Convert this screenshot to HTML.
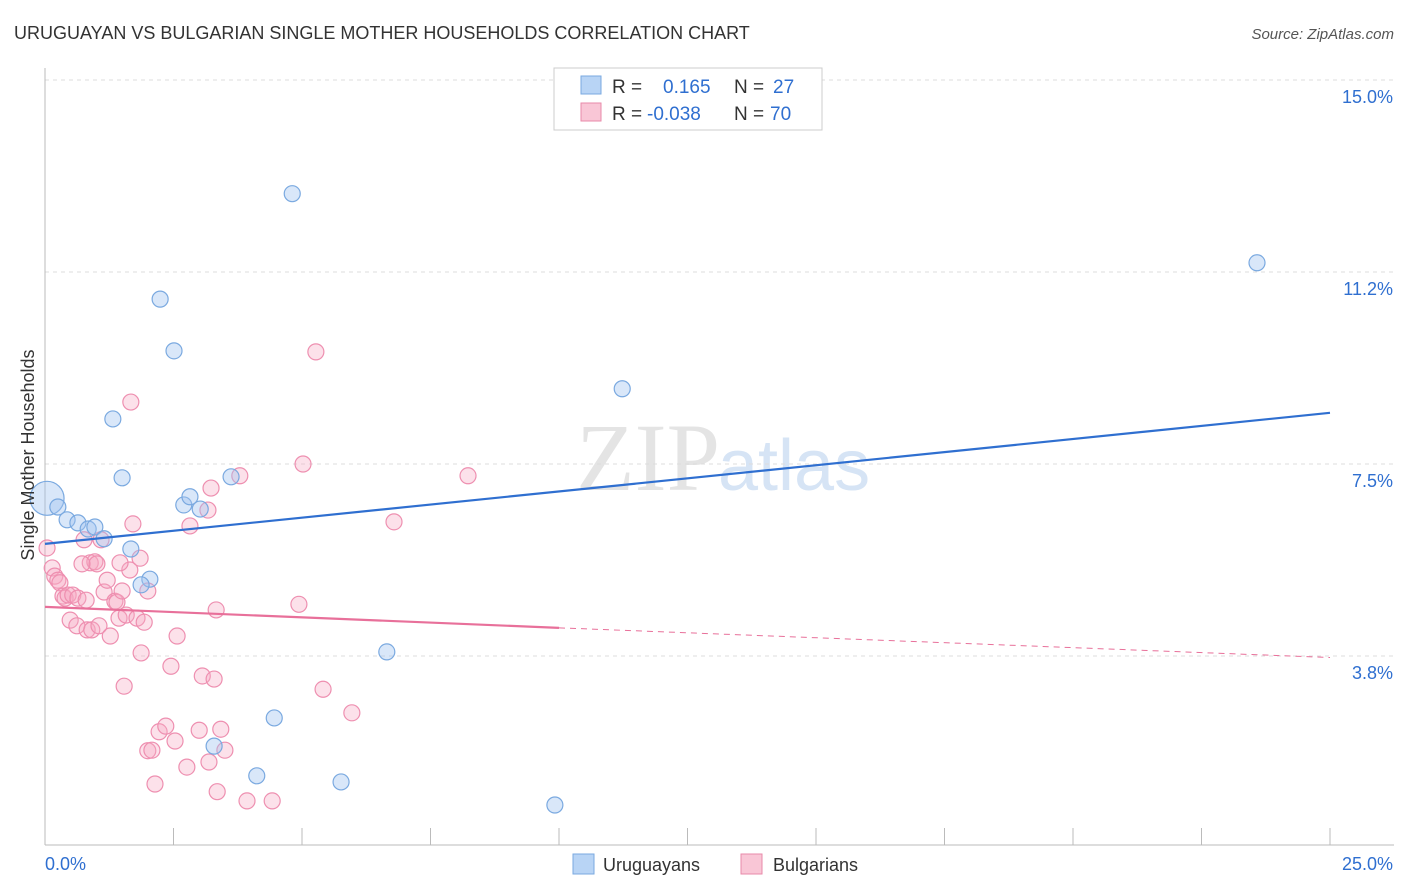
<!DOCTYPE html>
<html><head><meta charset="utf-8"><style>
body{margin:0;background:#fff;font-family:"Liberation Sans",sans-serif}
svg{display:block}
</style></head><body>
<svg id="chart" width="1406" height="892" xmlns="http://www.w3.org/2000/svg">
<text x="14" y="39" font-size="18" fill="#333">URUGUAYAN VS BULGARIAN SINGLE MOTHER HOUSEHOLDS CORRELATION CHART</text>
<text x="1394" y="39" font-size="15" fill="#555" font-style="italic" text-anchor="end">Source: ZipAtlas.com</text>
<text x="720" y="490" font-size="96" fill="#e4e4e4" text-anchor="end" font-family="Liberation Serif">ZIP</text>
<text x="718" y="490" font-size="72" fill="#d6e4f5">atlas</text>
<g id="grid"></g><g id="axes"></g><g id="marks"></g>
<text transform="translate(34,455) rotate(-90)" font-size="18" fill="#333" text-anchor="middle">Single Mother Households</text>
<g>
<rect x="554" y="68" width="268" height="62" fill="#fff" stroke="#ccc"/>
<rect x="581" y="76" width="20" height="18" fill="#b8d4f5" stroke="#7aa9e0"/>
<rect x="581" y="103" width="20" height="18" fill="#f9c6d6" stroke="#e88aa9"/>
<text x="612" y="93" font-size="19" fill="#333">R = </text><text x="663" y="93" font-size="19" fill="#2f6fd0">0.165</text>
<text x="734" y="93" font-size="19" fill="#333">N = </text><text x="773" y="93" font-size="19" fill="#2f6fd0">27</text>
<text x="612" y="120" font-size="19" fill="#333">R = </text><text x="647" y="120" font-size="19" fill="#2f6fd0">-0.038</text>
<text x="734" y="120" font-size="19" fill="#333">N = </text><text x="770" y="120" font-size="19" fill="#2f6fd0">70</text>
</g>
<g>
<rect x="573" y="854" width="21" height="20" fill="#b8d4f5" stroke="#7aa9e0"/>
<text x="603" y="871" font-size="18" fill="#333">Uruguayans</text>
<rect x="741" y="854" width="21" height="20" fill="#f9c6d6" stroke="#e88aa9"/>
<text x="773" y="871" font-size="18" fill="#333">Bulgarians</text>
</g>
</svg>
<script>
const xTicks=[0,2.5,5,7.5,10,12.5,15,17.5,20,22.5,25];
const yTicks=[15.0,11.25,7.5,3.75];
const yTickLabels=["15.0%","11.2%","7.5%","3.8%"];
const bluePx=[[0.04,6.83],[0.25,6.66],[0.43,6.41],[0.64,6.35],[0.84,6.23],[0.97,6.27],[1.15,6.04],[1.67,5.84],[2.04,5.25],[1.87,5.14],[1.32,8.38],[1.5,7.23],[2.24,10.72],[2.51,9.71],[4.81,12.78],[2.7,6.7],[2.82,6.86],[3.02,6.62],[3.62,7.25],[3.29,1.99],[4.46,2.54],[4.12,1.41],[5.76,1.29],[6.65,3.83],[9.92,0.84],[11.23,8.97],[23.58,11.43]];
const pinkPx=[[0.04,5.86],[0.14,5.47],[0.19,5.31],[0.25,5.23],[0.29,5.18],[0.35,4.92],[0.39,4.88],[0.45,4.94],[0.49,4.45],[0.54,4.94],[0.62,4.34],[0.64,4.88],[0.76,6.02],[0.82,4.26],[0.88,5.57],[0.91,4.26],[0.97,5.59],[1.01,5.55],[1.05,4.34],[1.09,6.02],[1.15,5.0],[1.21,5.23],[1.27,4.14],[1.36,4.82],[1.4,4.8],[1.44,4.49],[1.5,5.02],[1.58,4.55],[1.65,5.43],[1.67,8.71],[1.71,6.33],[1.79,4.49],[1.85,5.66],[1.87,3.81],[1.93,4.41],[2.0,5.02],[1.54,3.16],[2.0,1.9],[2.08,1.91],[2.14,1.25],[2.22,2.27],[2.35,2.38],[2.45,3.55],[2.53,2.09],[2.57,4.14],[2.76,1.58],[2.82,6.29],[3.0,2.3],[3.06,3.36],[3.19,1.68],[3.29,3.3],[3.33,4.65],[3.42,2.32],[3.5,1.91],[3.35,1.1],[3.23,7.03],[3.17,6.6],[3.79,7.27],[3.93,0.92],[4.42,0.92],[4.94,4.76],[5.02,7.5],[5.27,9.69],[5.41,3.1],[5.97,2.64],[6.79,6.37],[8.23,7.27],[0.72,5.55],[0.8,4.84],[1.46,5.57]];
const blueTrend=[[0,5.94],[25,8.5]];
const pinkTrend=[[0,4.71],[10,4.3],[25,3.72]];
const X=v=>45+v*51.4, Y=v=>80+(15-v)*51.2;
const NS="http://www.w3.org/2000/svg";
function mk(t,a,p){const e=document.createElementNS(NS,t);for(const k in a)e.setAttribute(k,a[k]);p.appendChild(e);return e;}
const grid=document.getElementById('grid'),axes=document.getElementById('axes'),marks=document.getElementById('marks');
yTicks.forEach((v,i)=>{const l=mk('line',{x1:45,x2:1394,y1:Y(v),y2:Y(v),stroke:'#ddd','stroke-dasharray':'4,4'},grid);


const t=mk('text',{x:1393,y:Y(v)+23,'font-size':18,fill:'#2f6fd0','text-anchor':'end'},axes);t.textContent=yTickLabels[i];

});
const ax=mk('line',{x1:45,x2:45,y1:68,y2:845,stroke:'#bbb'},axes);


const bx=mk('line',{x1:45,x2:1394,y1:845,y2:845,stroke:'#bbb'},axes);


xTicks.forEach(v=>{const l=mk('line',{x1:X(v),x2:X(v),y1:828,y2:845,stroke:'#bbb'},axes);

});
const xl=mk('text',{x:45,y:870,'font-size':18,fill:'#2f6fd0'},axes);xl.textContent='0.0%';


const xr=mk('text',{x:1393,y:870,'font-size':18,fill:'#2f6fd0','text-anchor':'end'},axes);xr.textContent='25.0%';


pinkPx.forEach(p=>{const c=mk('circle',{cx:X(p[0]),cy:Y(p[1]),r:8,fill:'rgba(246,170,196,0.35)',stroke:'#ee8fb0','stroke-width':1.2},marks);

});
bluePx.forEach((p,i)=>{const c=mk('circle',{cx:X(p[0]),cy:Y(p[1]),r:i==0?17:8,fill:'rgba(160,195,240,0.4)',stroke:'#7aa9e0','stroke-width':1.2},marks);

});
const bl=mk('line',{x1:X(blueTrend[0][0]),y1:Y(blueTrend[0][1]),x2:X(blueTrend[1][0]),y2:Y(blueTrend[1][1]),stroke:'#2f6fd0','stroke-width':2.2},marks);


const pl=mk('line',{x1:X(pinkTrend[0][0]),y1:Y(pinkTrend[0][1]),x2:X(pinkTrend[1][0]),y2:Y(pinkTrend[1][1]),stroke:'#e8709a','stroke-width':2.2},marks);


const pd=mk('line',{x1:X(pinkTrend[1][0]),y1:Y(pinkTrend[1][1]),x2:X(pinkTrend[2][0]),y2:Y(pinkTrend[2][1]),stroke:'#e8709a','stroke-width':1,'stroke-dasharray':'6,5'},marks);


</script>
</body></html>
